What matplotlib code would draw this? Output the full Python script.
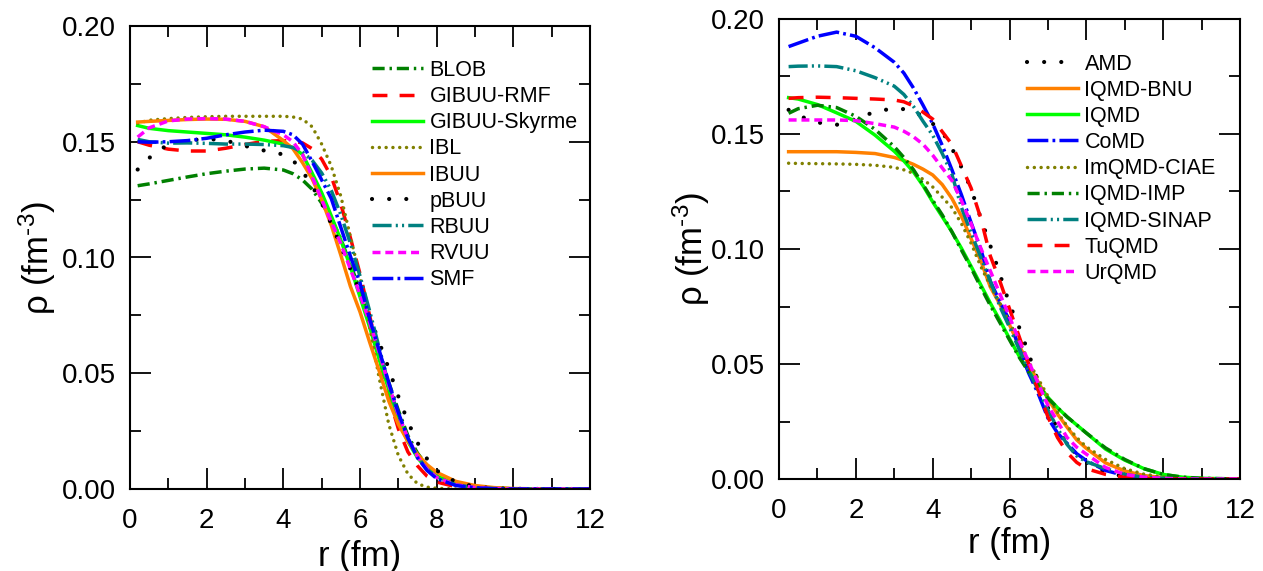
import matplotlib
matplotlib.use("Agg")
import matplotlib.pyplot as plt
from matplotlib.ticker import MultipleLocator, FormatStrFormatter

plt.rcParams['font.family'] = ['Liberation Sans', 'DejaVu Sans']
plt.rcParams['mathtext.fontset'] = 'custom'
plt.rcParams['mathtext.rm'] = 'Liberation Sans'
plt.rcParams['mathtext.it'] = 'Liberation Sans'

# ---------------- Left panel (BUU-type) ----------------
r_left = [0.2, 0.5, 1.0, 1.5, 2.0, 2.5, 3.0, 3.5, 4.0, 4.25, 4.5, 4.75, 5.0, 5.25, 5.5,
          5.75, 6.0, 6.25, 6.5, 6.75, 7.0, 7.25, 7.5, 7.75, 8.0, 8.5, 9.0, 9.5, 10.0, 11.0, 12.0]

blob = [0.131, 0.1318, 0.1333, 0.1348, 0.1362, 0.1373, 0.1382, 0.1386, 0.1378, 0.1362, 0.1335,
        0.1295, 0.1235, 0.117, 0.108, 0.097, 0.086, 0.073, 0.059, 0.046, 0.034, 0.023, 0.0155,
        0.010, 0.0065, 0.0025, 0.001, 0.0004, 0.0001, 0.0, 0.0]
gibuu_rmf = [0.150, 0.1485, 0.1468, 0.146, 0.146, 0.1472, 0.1488, 0.1502, 0.1505, 0.1502, 0.1495,
             0.147, 0.1425, 0.135, 0.123, 0.1085, 0.093, 0.075, 0.057, 0.040, 0.026, 0.016, 0.010,
             0.0055, 0.003, 0.001, 0.0003, 0.0001, 0.0, 0.0, 0.0]
gibuu_sky = [0.157, 0.1558, 0.1548, 0.1542, 0.1536, 0.153, 0.152, 0.1507, 0.149, 0.1475, 0.1445,
             0.1365, 0.128, 0.118, 0.1075, 0.096, 0.083, 0.070, 0.056, 0.043, 0.030, 0.0205, 0.0135,
             0.0088, 0.0056, 0.0022, 0.0008, 0.0003, 0.0001, 0.0, 0.0]
ibl = [0.158, 0.1593, 0.1600, 0.1605, 0.1608, 0.161, 0.161, 0.161, 0.161, 0.1607, 0.1598, 0.1565,
       0.149, 0.1395, 0.1265, 0.109, 0.0917, 0.070, 0.048, 0.028, 0.0145, 0.0065, 0.0023, 0.0008,
       0.0003, 0.0, 0.0, 0.0, 0.0, 0.0, 0.0]
ibuu = [0.1585, 0.1588, 0.1592, 0.1596, 0.1598, 0.1597, 0.1588, 0.1565, 0.1505, 0.147, 0.141,
        0.134, 0.125, 0.114, 0.101, 0.0875, 0.0765, 0.0635, 0.051, 0.038, 0.028, 0.0205, 0.015,
        0.0105, 0.0072, 0.0033, 0.0015, 0.0006, 0.0002, 0.0, 0.0]
pbuu = [0.138, 0.143, 0.149, 0.1505, 0.1513, 0.1505, 0.1482, 0.1462, 0.1445, 0.142, 0.1372, 0.131,
        0.1235, 0.1145, 0.105, 0.095, 0.085, 0.0745, 0.0635, 0.052, 0.040, 0.029, 0.020, 0.013,
        0.008, 0.003, 0.001, 0.0003, 0.0001, 0.0, 0.0]
rbuu = [0.151, 0.150, 0.1494, 0.1495, 0.1493, 0.149, 0.149, 0.1488, 0.1483, 0.1475, 0.1455, 0.142,
        0.1365, 0.129, 0.1185, 0.106, 0.092, 0.077, 0.061, 0.045, 0.032, 0.022, 0.014, 0.0085,
        0.005, 0.0018, 0.0006, 0.0002, 0.0, 0.0, 0.0]
rvuu = [0.152, 0.156, 0.159, 0.1598, 0.160, 0.1598, 0.1588, 0.1565, 0.153, 0.150, 0.1445, 0.135,
        0.125, 0.1155, 0.106, 0.095, 0.084, 0.072, 0.059, 0.045, 0.032, 0.022, 0.014, 0.0085,
        0.005, 0.0018, 0.0006, 0.0002, 0.0, 0.0, 0.0]
smf = [0.150, 0.1498, 0.150, 0.1505, 0.1515, 0.153, 0.1542, 0.155, 0.1545, 0.153, 0.149, 0.1415,
       0.1335, 0.1255, 0.113, 0.1005, 0.089, 0.0735, 0.060, 0.046, 0.033, 0.022, 0.0135, 0.008,
       0.0045, 0.0015, 0.0005, 0.0001, 0.0, 0.0, 0.0]

left_labels = ['BLOB', 'GIBUU-RMF', 'GIBUU-Skyrme', 'IBL', 'IBUU', 'pBUU', 'RBUU', 'RVUU', 'SMF']
left_data = [blob, gibuu_rmf, gibuu_sky, ibl, ibuu, pbuu, rbuu, rvuu, smf]

# ---------------- Right panel (QMD-type) ----------------
r_right = [0.25, 0.5, 1.0, 1.5, 2.0, 2.5, 3.0, 3.25, 3.5, 3.75, 4.0, 4.25, 4.5, 4.75, 5.0, 5.25,
           5.5, 5.75, 6.0, 6.25, 6.5, 6.75, 7.0, 7.25, 7.5, 7.75, 8.0, 8.5, 9.0, 9.5, 10.0, 10.5,
           11.0, 12.0]

amd = [0.1605, 0.158, 0.155, 0.154, 0.1565, 0.1597, 0.1612, 0.1608, 0.160, 0.1575, 0.1545, 0.151,
       0.1438, 0.1355, 0.1262, 0.1135, 0.1015, 0.089, 0.076, 0.066, 0.0545, 0.042, 0.031, 0.0215,
       0.0155, 0.0105, 0.0072, 0.003, 0.001, 0.0003, 0.0001, 0.0, 0.0, 0.0]
iqmd_bnu = [0.1423, 0.1423, 0.1423, 0.1423, 0.142, 0.1415, 0.1398, 0.1385, 0.1368, 0.1347,
            0.1322, 0.128, 0.122, 0.1142, 0.1045, 0.095, 0.0835, 0.076, 0.067, 0.058, 0.050,
            0.042, 0.035, 0.0282, 0.0225, 0.017, 0.0133, 0.0070, 0.0035, 0.0015, 0.0006, 0.0002,
            0.0001, 0.0]
iqmd = [0.1658, 0.1652, 0.1628, 0.1592, 0.1555, 0.1495, 0.1425, 0.1383, 0.1335, 0.1275, 0.1205,
        0.114, 0.1075, 0.1003, 0.0925, 0.0845, 0.0765, 0.069, 0.061, 0.0535, 0.047, 0.0408,
        0.0355, 0.031, 0.027, 0.0235, 0.020, 0.013, 0.0082, 0.0045, 0.002, 0.0008, 0.0003, 0.0]
comd = [0.188, 0.1895, 0.1925, 0.1943, 0.1925, 0.1875, 0.1812, 0.1765, 0.170, 0.1625, 0.1545,
        0.145, 0.1345, 0.1235, 0.1115, 0.100, 0.086, 0.077, 0.069, 0.057, 0.046, 0.037, 0.0265,
        0.020, 0.0155, 0.011, 0.008, 0.0037, 0.0015, 0.0005, 0.0001, 0.0, 0.0, 0.0]
imqmd_ciae = [0.1373, 0.1372, 0.1371, 0.137, 0.1368, 0.1364, 0.1355, 0.1344, 0.1329, 0.1303,
              0.127, 0.1225, 0.118, 0.111, 0.1025, 0.0925, 0.084, 0.0765, 0.068, 0.060, 0.051,
              0.0435, 0.036, 0.029, 0.023, 0.018, 0.014, 0.0085, 0.0045, 0.0021, 0.0009, 0.0004,
              0.0001, 0.0]
iqmd_imp = [0.159, 0.161, 0.1625, 0.1615, 0.1577, 0.152, 0.1445, 0.1398, 0.1345, 0.128, 0.1212,
            0.1148, 0.1075, 0.0995, 0.0918, 0.0835, 0.0755, 0.068, 0.0605, 0.053, 0.0465, 0.0405,
            0.035, 0.031, 0.027, 0.0235, 0.020, 0.0135, 0.0085, 0.0045, 0.002, 0.0008, 0.0003,
            0.0]
iqmd_sinap = [0.1793, 0.1795, 0.1796, 0.1793, 0.1775, 0.1745, 0.1708, 0.1672, 0.162, 0.1555,
              0.1495, 0.1415, 0.1325, 0.118, 0.107, 0.0965, 0.086, 0.075, 0.066, 0.0565, 0.047,
              0.0385, 0.030, 0.022, 0.015, 0.010, 0.0075, 0.0045, 0.002, 0.0008, 0.0003, 0.0,
              0.0, 0.0]
tuqmd = [0.1655, 0.1658, 0.166, 0.1658, 0.1655, 0.1652, 0.1648, 0.164, 0.1622, 0.1595, 0.1565,
         0.151, 0.1455, 0.136, 0.1265, 0.1135, 0.097, 0.086, 0.074, 0.062, 0.050, 0.0385, 0.027,
         0.018, 0.0115, 0.0072, 0.0045, 0.002, 0.0007, 0.0002, 0.0, 0.0, 0.0, 0.0]
urqmd = [0.1561, 0.1561, 0.1561, 0.1561, 0.1558, 0.1545, 0.153, 0.1512, 0.1488, 0.1455, 0.1408,
         0.1352, 0.1298, 0.121, 0.111, 0.1005, 0.0905, 0.0805, 0.0705, 0.0602, 0.051, 0.0415,
         0.032, 0.025, 0.018, 0.0138, 0.0108, 0.005, 0.002, 0.0008, 0.0003, 0.0, 0.0, 0.0]

right_labels = ['AMD', 'IQMD-BNU', 'IQMD', 'CoMD', 'ImQMD-CIAE', 'IQMD-IMP', 'IQMD-SINAP',
                'TuQMD', 'UrQMD']
right_data = [amd, iqmd_bnu, iqmd, comd, imqmd_ciae, iqmd_imp, iqmd_sinap, tuqmd, urqmd]

# ---------------- styles ----------------
sty = {
    'darkgreen_dd': dict(color='#008000', lw=2.5, ls=(0, (3.5, 1.4, 0.7, 1.4))),
    'red_dash': dict(color='#ff0000', lw=2.5, ls=(0, (4.3, 3.5))),
    'lime': dict(color='#00ff00', lw=2.5, ls='-'),
    'olive_dot': dict(color='#808000', lw=2.5, ls=(0, (0.01, 1.95)), dash_capstyle='round'),
    'orange': dict(color='#ff8000', lw=2.5, ls='-'),
    'black_dot': dict(color='#000000', lw=3.0, ls=(0, (0.01, 4.1)), dash_capstyle='round'),
    'teal_ddd': dict(color='#008080', lw=2.5, ls=(0, (5.5, 1.2, 0.6, 1.2, 0.6, 1.2))),
    'magenta': dict(color='#ff00ff', lw=2.5, ls=(0, (2.3, 1.4))),
    'blue_dd': dict(color='#0000ff', lw=2.5, ls=(0, (6.0, 1.2, 0.8, 1.2))),
}
left_styles = ['darkgreen_dd', 'red_dash', 'lime', 'olive_dot', 'orange', 'black_dot',
               'teal_ddd', 'magenta', 'blue_dd']
right_styles = ['black_dot', 'orange', 'lime', 'blue_dd', 'olive_dot', 'darkgreen_dd',
                'teal_ddd', 'red_dash', 'magenta']

fig = plt.figure(figsize=(12.63, 5.71), dpi=100)
axL = fig.add_axes([130 / 1263, 1 - 489 / 571, 460 / 1263, 463 / 571])
axR = fig.add_axes([779 / 1263, 1 - 479 / 571, 461 / 1263, 460 / 571])


def style_axes(ax):
    ax.set_xlim(0, 12)
    ax.set_ylim(0, 0.20)
    ax.xaxis.set_major_locator(MultipleLocator(2))
    ax.xaxis.set_minor_locator(MultipleLocator(1))
    ax.yaxis.set_major_locator(MultipleLocator(0.05))
    ax.yaxis.set_minor_locator(MultipleLocator(0.025))
    ax.yaxis.set_major_formatter(FormatStrFormatter('%.2f'))
    ax.tick_params(which='both', direction='in', top=True, right=True, width=1.3,
                   labelsize=20, color='black')
    ax.tick_params(which='major', length=15)
    ax.tick_params(which='minor', length=8)
    ax.tick_params(axis='y', pad=10)
    ax.tick_params(axis='x', pad=14)
    for s in ax.spines.values():
        s.set_linewidth(1.5)
    ax.set_xlabel('r (fm)', fontsize=25)
    ax.set_ylabel(r'ρ (fm$^{\text{-3}}$)', fontsize=25)


for lab, d, s in zip(left_labels, left_data, left_styles):
    axL.plot(r_left, d, label=lab, **sty[s])
for lab, d, s in zip(right_labels, right_data, right_styles):
    axR.plot(r_right, d, label=lab, **sty[s])

style_axes(axL)
style_axes(axR)
axL.xaxis.set_label_coords(0.5, -0.11)
axR.xaxis.set_label_coords(0.5, -0.105)
axL.yaxis.set_label_coords(-0.157, 0.5)
axR.yaxis.set_label_coords(-0.145, 0.5)

leg_kw = dict(frameon=False, fontsize=15.5, handlelength=2.37, handletextpad=0.3,
              labelspacing=0.24, borderpad=0, borderaxespad=0, loc='upper left')
axL.legend(bbox_to_anchor=(372 / 1263, 1 - 60 / 571), bbox_transform=fig.transFigure, **leg_kw)
axR.legend(bbox_to_anchor=(1027 / 1263, 1 - 53.5 / 571), bbox_transform=fig.transFigure, **leg_kw)

fig.savefig('out.png', dpi=100)
